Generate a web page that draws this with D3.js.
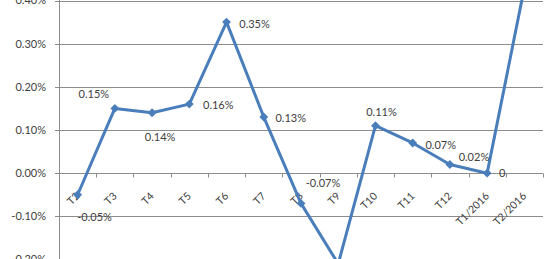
<!DOCTYPE html>
<html><head><meta charset="utf-8">
<script src="https://cdn.jsdelivr.net/npm/d3@7"></script>
<style>
html,body{margin:0;padding:0;background:#fff;overflow:hidden}
svg{display:block}
text{font-family:Lato,"Open Sans",sans-serif;fill:#404040}
</style></head>
<body>
<script>
const categories = ["T2","T3","T4","T5","T6","T7","T8","T9","T10","T11","T12","T1/2016","T2/2016"];
const values = [-0.05,0.15,0.14,0.16,0.35,0.13,-0.07,-0.21,0.11,0.07,0.02,0,0.43];
const yTicks = [-0.2,-0.1,0,0.1,0.2,0.3,0.4];
// label placement offsets (style only)
const labelOffsets = [[17,22],[-21,-14],[8,24],[29,1],[28,2],[27,1],[22,-20],[27,24],[6,-14],[28,2],[24,-7],[15,0],[28,-20]];

const W = 553, H = 259;
const svg = d3.select("body").append("svg").attr("width", W).attr("height", H);

const x = d3.scaleBand().domain(categories).range([59, 543]);
const y = d3.scaleLinear().domain([-0.2, 0.4]).range([259.5, 0.5]);

// gridlines
svg.append("g").selectAll("line").data(yTicks).join("line")
  .attr("x1", 55).attr("x2", 543)
  .attr("y1", d => Math.round(y(d)) + 0.5).attr("y2", d => Math.round(y(d)) + 0.5)
  .attr("stroke", "#8c8c8c").attr("stroke-width", 1);

// y axis line
svg.append("line").attr("x1", 59.5).attr("x2", 59.5).attr("y1", 0).attr("y2", H)
  .attr("stroke", "#8c8c8c");

// y labels
svg.append("g").selectAll("text").data(yTicks).join("text")
  .attr("x", 46).attr("y", d => y(d)).attr("dy", "0.35em")
  .attr("text-anchor", "end").attr("font-size", 11)
  .text(d => d.toFixed(2) + "%");

// x tick marks at category boundaries
const y0 = Math.round(y(0)) + 0.5;
svg.append("g").selectAll("line").data(categories).join("line")
  .attr("x1", d => Math.round(x(d) + x.bandwidth()) + 0.5)
  .attr("x2", d => Math.round(x(d) + x.bandwidth()) + 0.5)
  .attr("y1", y0).attr("y2", y0 + 4)
  .attr("stroke", "#8c8c8c");

// x labels
svg.append("g").selectAll("text").data(categories).join("text")
  .attr("transform", d => `translate(${x(d) + x.bandwidth()/2},${y(0) + 21}) rotate(-45)`)
  .attr("text-anchor", "end").attr("dy", "0.35em").attr("font-size", 10.5)
  .text(d => d);

// line
const line = d3.line().x((d, i) => x(categories[i]) + x.bandwidth()/2).y(d => y(d));
svg.append("path").datum(values).attr("d", line)
  .attr("fill", "none").attr("stroke", "#4a7ebb").attr("stroke-width", 3)
  .attr("stroke-linejoin", "round");

// markers
svg.append("g").selectAll("path").data(values).join("path")
  .attr("d", d3.symbol().type(d3.symbolDiamond2).size(50))
  .attr("transform", (d, i) => `translate(${x(categories[i]) + x.bandwidth()/2},${y(d)})`)
  .attr("fill", "#4a7ebb");

// data labels
svg.append("g").selectAll("text").data(values).join("text")
  .attr("x", (d, i) => x(categories[i]) + x.bandwidth()/2 + labelOffsets[i][0])
  .attr("y", (d, i) => y(d) + labelOffsets[i][1])
  .attr("dy", "0.35em").attr("text-anchor", "middle").attr("font-size", 11)
  .text(d => d === 0 ? "0" : d.toFixed(2) + "%");
</script>
</body></html>
